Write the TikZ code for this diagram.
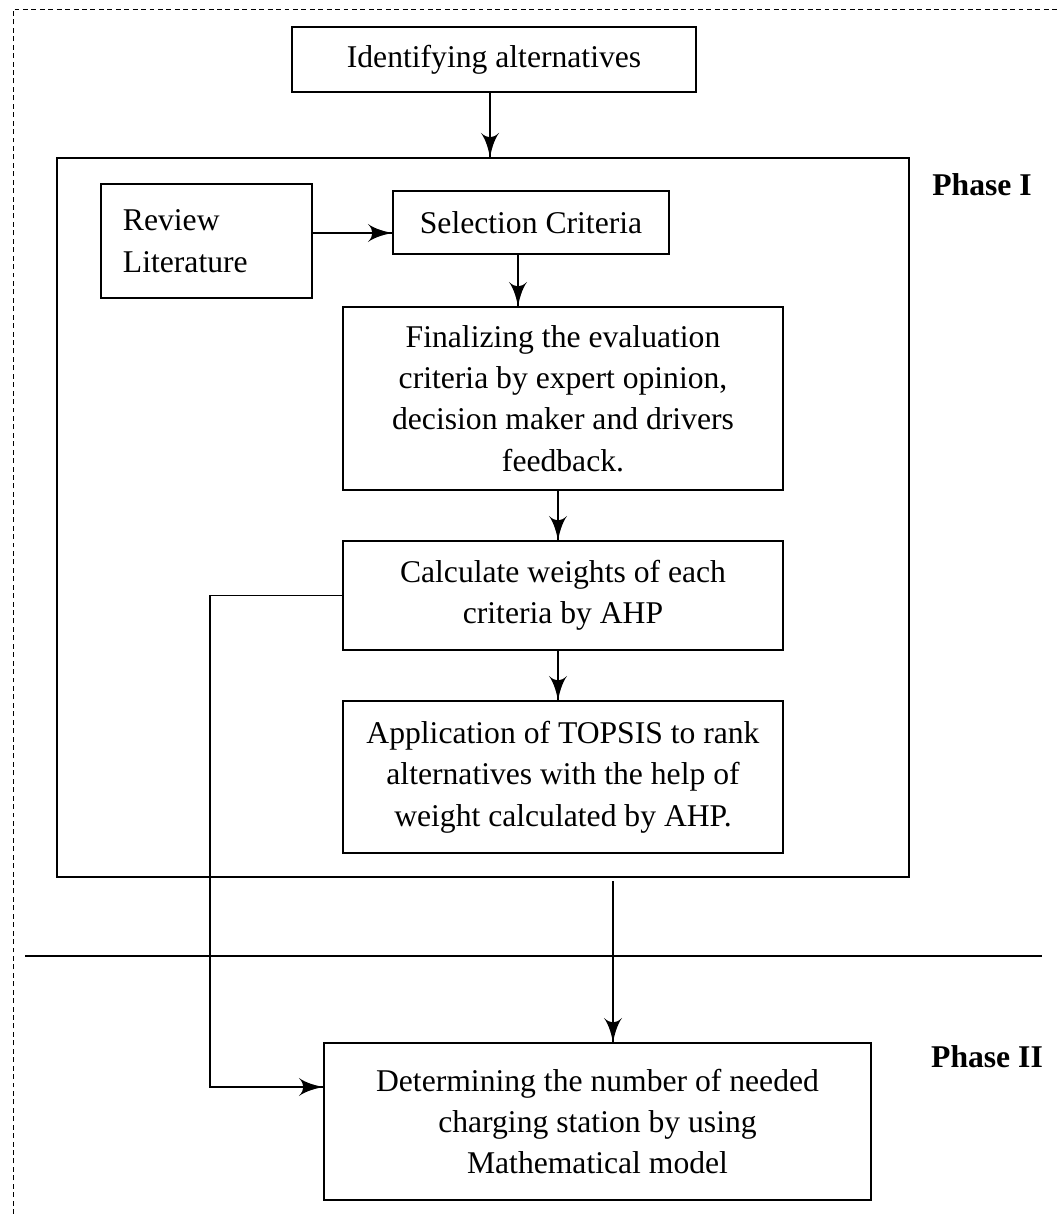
\documentclass[tikz,border=0pt]{standalone}
\usepackage{fontspec}
\setmainfont{Liberation Serif}
\usepackage{tikz}
\usetikzlibrary{arrows}
\usetikzlibrary{decorations.markings}
\usetikzlibrary{positioning}
\tikzset{arr/.style = {line width=1pt,
                       decoration={markings,
                                   mark=at position 1 with {\arrow[scale=3]{latex'}}},
                       postaction={decorate}}}
\tikzset{box/.style = {draw, line width=1pt, align=center, inner sep=0pt,
                       font=\fontsize{22.5pt}{29.5pt}\selectfont}}
\tikzset{phase/.style = {font=\bfseries\fontsize{22.5pt}{29.5pt}\selectfont}}

\begin{document}
\begin{tikzpicture}[x=0.025cm, y=-0.025cm]
    \useasboundingbox (0, 0) rectangle (1059, 1214);
    \draw [dashed, line width=0.6pt, dash pattern=on 3.5pt off 2.5pt] (13, 1214) -- (13, 9) -- (1059, 9);

    \node [box, minimum width=10.1cm, minimum height=1.625cm] (idf) at (494, 59.5) {Identifying alternatives};
    \node [draw, line width=1pt, minimum width=21.3cm, minimum height=17.975cm] (ph1) at (483, 517.5) {};
    \node [phase] (lab1) at (982, 185) {Phase I};

    \node [box, align=left, text width=4.175cm, inner xsep=0.55cm, minimum height=2.85cm] (rev) at (206.5, 241) {Review\\Literature};
    \node [box, minimum width=6.9cm, minimum height=1.575cm] (sel) at (531, 222.5) {Selection Criteria};
    \node [box, minimum width=11cm, minimum height=4.575cm] (fin) at (563, 398.5)
      {Finalizing the evaluation\\criteria by expert opinion,\\decision maker and drivers\\feedback.};
    \node [box, minimum width=11cm, minimum height=2.725cm] (cal) at (563, 595.5)
      {Calculate weights of each\\criteria by AHP};
    \node [box, minimum width=11cm, minimum height=3.8cm] (app) at (563, 777)
      {Application of TOPSIS to rank\\alternatives with the help of\\weight calculated by AHP.};

    \draw [line width=1pt] (25, 956) -- (1042, 956);

    \node [box, minimum width=13.675cm, minimum height=3.925cm] (det) at (597.5, 1121.5)
      {Determining the number of needed\\charging station by using\\Mathematical model};
    \node [phase] (lab2) at (987, 1057) {Phase II};

    \draw [arr] ([xshift=-0.1cm]idf.south) -- ([xshift=-0.1cm]idf.south |- ph1.north);
    \draw [arr] ([yshift=0.2cm]rev.east) -- ([yshift=0.2cm]rev.east -| sel.west);
    \draw [arr] ([xshift=-0.325cm]sel.south) -- ([xshift=-0.325cm]sel.south |- fin.north);
    \draw [arr] ([xshift=-0.125cm]fin.south) -- ([xshift=-0.125cm]fin.south |- cal.north);
    \draw [arr] ([xshift=-0.125cm]cal.south) -- ([xshift=-0.125cm]cal.south |- app.north);

    \coordinate (drop) at (613, 881);
    \draw [arr] (drop) -- (drop |- det.north);
    \coordinate (fb) at (210, 1087);
    \draw [arr] (cal.west) -| (fb) -- (fb -| det.west);
  \end{tikzpicture}
\end{document}
